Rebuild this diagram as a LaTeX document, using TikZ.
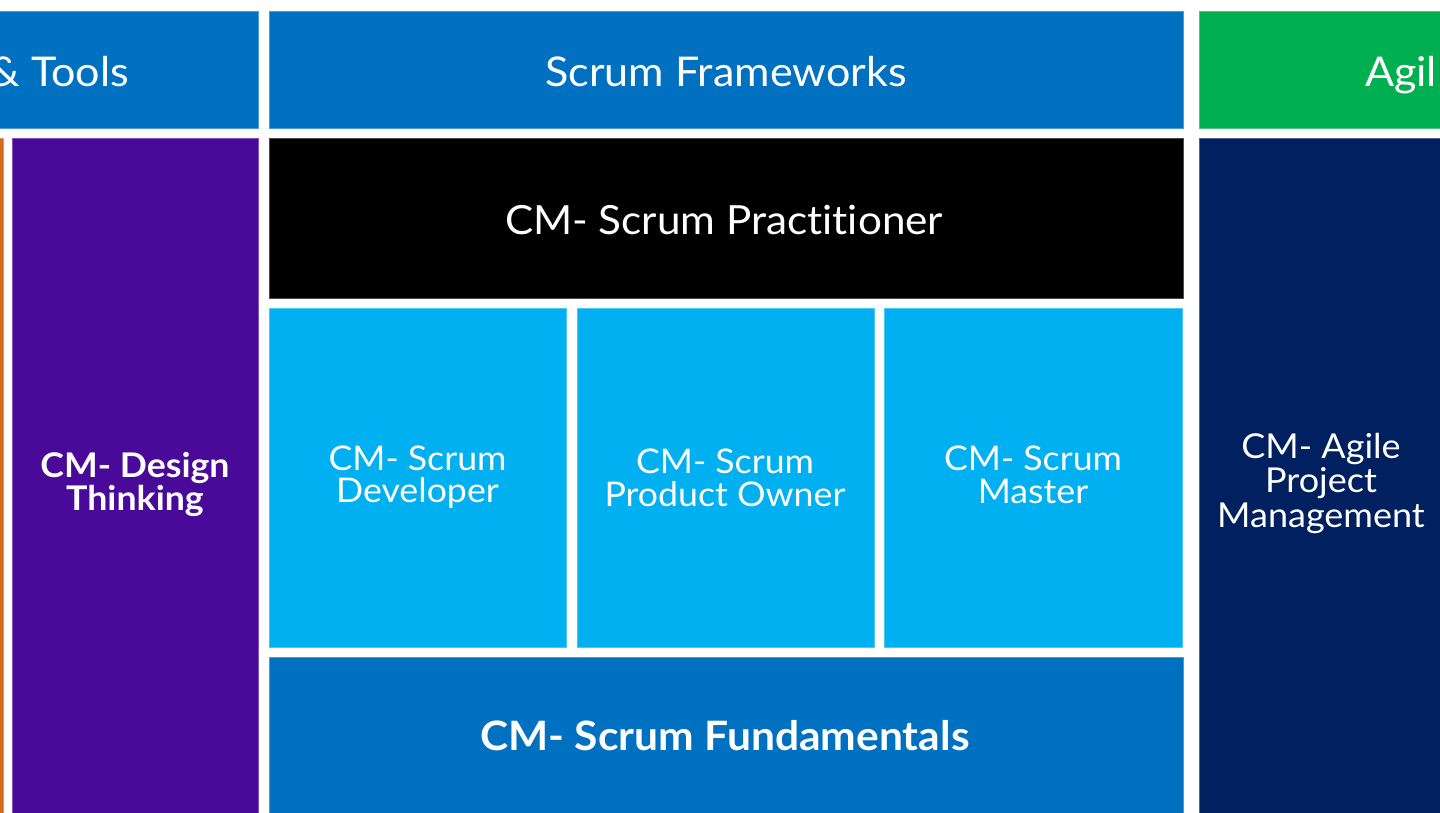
\documentclass[tikz,border=0pt]{standalone}
\usepackage{fontspec}
\setmainfont{Lato}[FakeStretch=1.05, Ligatures=NoCommon]
\definecolor{hdrblue}{HTML}{0070C0}
\definecolor{hdrgreen}{HTML}{00B050}
\definecolor{dtpurple}{HTML}{4A0A99}
\definecolor{stripor}{HTML}{D2691E}
\definecolor{ltblue}{HTML}{00B0F0}
\definecolor{navy}{HTML}{002060}
\tikzset{
  tile/.style={rectangle, inner sep=0pt, outer sep=0pt, text=white, align=center, line width=0.8pt},
  hdrtext/.style={font=\fontsize{41}{41}\selectfont},
  bigtext/.style={font=\fontsize{40.2}{41}\selectfont},
  midtext/.style={font=\fontsize{34}{32.5}\selectfont},
  boldtext/.style={font=\bfseries\fontsize{34}{33}\selectfont},
}
\newcommand{\tileat}[6]{% name, x1, y1, x2, y2, colour
  \path[fill=#6, draw=#6!70!white] (#2,#3) rectangle (#4,#5);
  \coordinate (#1) at ({(#2+#4)/2},{(#3+#5)/2});
}
\begin{document}
\begin{tikzpicture}[x=1pt,y=-1pt]
\useasboundingbox (0,0) rectangle (1440,813);
\clip (0,0) rectangle (1440,813);
\fill[white] (0,0) rectangle (1440,813);
% header row
\tileat{hleft}{-20}{11.5}{258}{128}{hdrblue}
\tileat{hmid}{269}{11.5}{1183}{128}{hdrblue}
\tileat{hright}{1199}{11.5}{1460}{128}{hdrgreen}
% lower row
\tileat{strip}{-20}{138}{3}{830}{stripor}
\tileat{dt}{12}{138}{258}{830}{dtpurple}
\tileat{sp}{269}{138}{1183}{298}{black}
\tileat{sd}{269}{308}{566}{647.5}{ltblue}
\tileat{spo}{577}{308}{874.5}{647.5}{ltblue}
\tileat{sm}{884}{308}{1182}{647.5}{ltblue}
\tileat{sf}{269}{657}{1183}{830}{hdrblue}
\tileat{apm}{1199}{138}{1460}{830}{navy}
% texts
\node[tile, hdrtext, anchor=base east] (thleft) at (129,87) {\&\ Tools};
\node[tile, hdrtext, anchor=base] (thmid) at (726,87) {Scrum Frameworks};
\node[tile, hdrtext, anchor=base west] (thright) at (1365,87) {Agil};
\node[tile, bigtext, anchor=base] (tsp) at (724,234) {CM- Scrum Practitioner};
\node[tile, boldtext] (tdt) at (135,484) {CM- Design\\Thinking};
\node[tile, midtext] (tsd) at (417.5,477) {CM- Scrum\\Developer};
\node[tile, midtext] (tspo) at (725,478) {CM- Scrum\\Product Owner};
\node[tile, midtext] (tsm) at (1033,475) {CM- Scrum\\Master};
\node[tile, font=\fontsize{34.3}{34.5}\selectfont] (tapm) at (1321,483) {CM- Agile\\Project\\Management};
\node[tile, font=\bfseries\fontsize{40.5}{40}\selectfont, anchor=base] (tsf) at (725,750) {CM- Scrum Fundamentals};
\end{tikzpicture}
\end{document}
